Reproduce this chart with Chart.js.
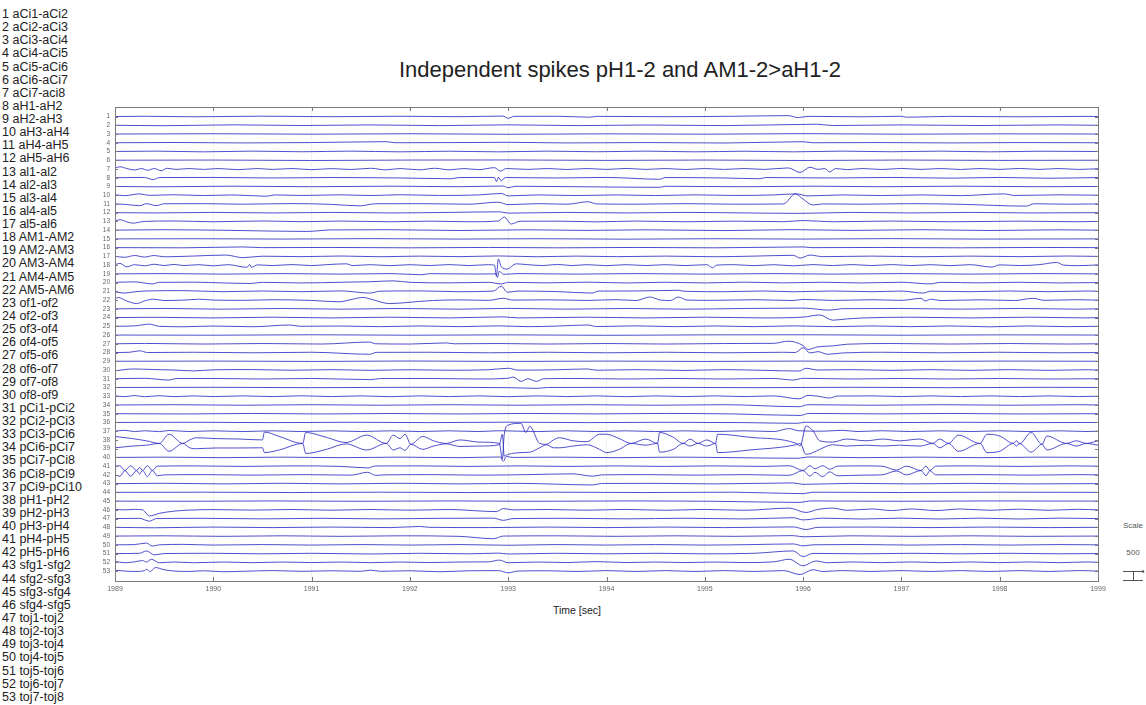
<!DOCTYPE html>
<html>
<head>
<meta charset="utf-8">
<script src="https://cdn.jsdelivr.net/npm/chart.js@4.4.1/dist/chart.umd.min.js"></script>
<style>
  html,body{margin:0;padding:0;background:#fff;}
  body{width:1146px;height:705px;position:relative;overflow:hidden;font-family:"Liberation Sans",Arial,sans-serif;}
  #c{position:absolute;left:0;top:0;}
  .lbl{position:absolute;white-space:nowrap;transform:translateY(-50%);}
  #names .lbl{left:2px;font-size:12.5px;color:#222;}
  .ctr{position:absolute;white-space:nowrap;transform:translate(-50%,-50%);}
  #title{font-size:22px;color:#222;}
  #xlab{font-size:10.5px;color:#222;}
  .sc{font-size:8px;color:#555;}
</style>
</head>
<body>
<div id="names"></div>
<div id="title" class="ctr" style="left:620px;top:70px"></div>
<div id="xlab" class="ctr" style="left:577px;top:610px">Time [sec]</div>
<div class="ctr sc" style="left:1133px;top:525px">Scale</div>
<div id="scaleVal" class="ctr sc" style="left:1133px;top:552px"></div>
<canvas id="c" width="1146" height="705"></canvas>
<script>
/* ═══ DATA ═══ */
const titleText='Independent spikes pH1-2 and AM1-2>aH1-2';
const channelNames=['aCi1-aCi2','aCi2-aCi3','aCi3-aCi4','aCi4-aCi5','aCi5-aCi6','aCi6-aCi7','aCi7-aci8',
  'aH1-aH2','aH2-aH3','aH3-aH4','aH4-aH5','aH5-aH6','al1-al2','al2-al3','al3-al4','al4-al5','al5-al6',
  'AM1-AM2','AM2-AM3','AM3-AM4','AM4-AM5','AM5-AM6','of1-of2','of2-of3','of3-of4','of4-of5','of5-of6',
  'of6-of7','of7-of8','of8-of9','pCi1-pCi2','pCi2-pCi3','pCi3-pCi6','pCi6-pCi7','pCi7-pCi8','pCi8-pCi9',
  'pCi9-pCi10','pH1-pH2','pH2-pH3','pH3-pH4','pH4-pH5','pH5-pH6','sfg1-sfg2','sfg2-sfg3','sfg3-sfg4',
  'sfg4-sfg5','toj1-toj2','toj2-toj3','toj3-toj4','toj4-toj5','toj5-toj6','toj6-toj7','toj7-toj8'];
const xTicks=[1989,1990,1991,1992,1993,1994,1995,1996,1997,1998,1999];
const scaleLabel='500';

// one trace per channel: [time (s), amplitude in trace-spacing units, + = up]
const traces=[
 /*1*/ [[1989,0],[1989.3,0.03],[1989.8,-0.03],[1990.5,0.04],[1991.2,-0.02],[1991.9,0.03],[1992.5,-0.02],[1992.95,0.05],[1993.0,-0.2],[1993.06,0.02],[1993.5,0.03],[1993.83,-0.08],[1993.9,0.02],[1994.6,-0.02],[1995.3,0.03],[1995.85,0.1],[1995.95,-0.12],[1996.05,0.02],[1996.6,-0.03],[1997,0.03],[1997.05,-0.08],[1997.5,0.02],[1998.2,-0.03],[1998.9,0.02],[1999,0]],
 /*2*/ [[1989,0],[1989.5,-0.05],[1990.2,0.05],[1990.9,-0.03],[1991.6,0.04],[1992.3,-0.04],[1993.0,0.05],[1993.7,-0.04],[1994.4,0.03],[1995.2,-0.04],[1996.14,0.12],[1996.3,-0.03],[1997,0.04],[1997.8,-0.03],[1998.6,0.04],[1999,0]],
 /*3*/ [[1989,0],[1990,0.03],[1991,-0.02],[1992,0.03],[1993,-0.03],[1994,0.02],[1995,-0.02],[1996,0.04],[1997,-0.02],[1998,0.02],[1999,0]],
 /*4*/ [[1989,0],[1989.6,0.03],[1990.3,-0.02],[1991.0,0.02],[1991.76,0.12],[1991.85,0],[1992.5,0.02],[1993.0,0.05],[1993.6,-0.02],[1994.4,0.02],[1995.2,-0.03],[1996.0,0.12],[1996.1,0],[1996.8,0.02],[1997.5,-0.02],[1998.2,0.02],[1999,0]],
 /*5*/ [[1989,0],[1989.4,0.04],[1989.9,-0.04],[1990.4,0.04],[1990.9,-0.03],[1991.4,0.04],[1991.9,-0.04],[1992.4,0.03],[1992.9,-0.04],[1993.4,0.04],[1993.9,-0.03],[1994.4,0.04],[1994.9,-0.04],[1995.4,0.03],[1995.9,-0.04],[1996.4,0.04],[1996.9,-0.03],[1997.4,0.04],[1997.9,-0.04],[1998.4,0.03],[1999,0]],
 /*6*/ [[1989,0],[1990,0.02],[1991,-0.03],[1992,0.02],[1993,0.03],[1994,-0.02],[1995,0.02],[1996,-0.03],[1997,0.02],[1998,-0.02],[1999,0]],
 /*7*/ [[1989,0.1],[1989.05,0.25],[1989.12,0.05],[1989.2,-0.12],[1989.27,0.05],[1989.33,-0.15],[1989.4,0.05],[1989.47,-0.2],[1989.53,0.08],[1989.62,-0.05],[1989.75,0.05],[1989.9,-0.05],[1990.05,0.05],[1990.25,-0.08],[1990.45,0.05],[1990.6,-0.05],[1990.8,0.05],[1991.0,-0.08],[1991.2,0.04],[1991.4,-0.06],[1991.6,0.08],[1991.75,-0.1],[1991.9,0.05],[1992.1,-0.1],[1992.25,0.08],[1992.4,-0.1],[1992.55,0.05],[1992.7,-0.08],[1992.86,0.15],[1992.92,-0.25],[1992.98,0.05],[1993.2,-0.05],[1993.4,0.05],[1993.6,-0.06],[1993.8,0.05],[1994.0,-0.05],[1994.2,0.06],[1994.4,-0.05],[1994.6,0.05],[1994.8,-0.06],[1995.0,0.05],[1995.2,-0.05],[1995.4,0.05],[1995.6,-0.05],[1995.85,0.12],[1995.97,-0.4],[1996.07,0.2],[1996.15,-0.05],[1996.22,0.05],[1996.27,-0.35],[1996.33,0.05],[1996.45,-0.08],[1996.6,0.05],[1996.8,-0.06],[1997.0,0.06],[1997.2,-0.05],[1997.4,0.05],[1997.6,-0.06],[1997.8,0.05],[1998.0,-0.05],[1998.2,0.06],[1998.4,-0.05],[1998.6,0.05],[1998.8,-0.05],[1999,0.03]],
 /*8*/ [[1989,0],[1989.3,0.03],[1989.39,-0.22],[1989.45,0.02],[1990,0.03],[1990.6,-0.03],[1991.2,0.02],[1991.9,-0.03],[1992.42,-0.12],[1992.5,0.02],[1992.86,0.03],[1992.88,-0.45],[1992.9,0.05],[1992.93,-0.35],[1992.97,0.02],[1993.5,-0.03],[1994.0,0.03],[1994.54,-0.18],[1994.6,0.02],[1995.2,-0.03],[1995.56,-0.12],[1995.62,0.02],[1996.3,-0.03],[1996.9,0.03],[1997.5,-0.05],[1998.0,0.03],[1998.5,-0.06],[1999,0.02]],
 /*9*/ [[1989,0],[1989.4,-0.04],[1990.2,0.03],[1991,-0.03],[1991.8,0.03],[1992.5,-0.03],[1992.95,0.05],[1993.0,-0.15],[1993.07,0.02],[1993.7,-0.03],[1994.54,-0.1],[1994.6,0.02],[1995.4,-0.03],[1996.1,0.03],[1996.8,-0.03],[1997.6,0.03],[1998.4,-0.03],[1999,0]],
 /*10*/ [[1989,0.05],[1989.1,-0.05],[1989.25,0.15],[1989.35,-0.02],[1989.6,0.05],[1989.9,-0.04],[1990.2,0.03],[1990.54,-0.12],[1990.62,0.03],[1990.9,-0.03],[1991.3,0.04],[1991.6,-0.04],[1991.9,0.05],[1992.3,-0.03],[1992.7,0.03],[1992.93,0.2],[1993.0,-0.08],[1993.3,0.03],[1993.7,-0.04],[1994.1,0.03],[1994.5,-0.04],[1994.9,0.04],[1995.3,-0.03],[1995.7,0.03],[1995.93,0.15],[1996.05,-0.08],[1996.4,0.03],[1996.8,-0.04],[1997.2,0.03],[1997.6,-0.05],[1998.04,0.15],[1998.15,-0.03],[1998.6,0.04],[1999,0]],
 /*11*/ [[1989,0],[1989.1,-0.05],[1989.25,-0.2],[1989.32,0.03],[1989.42,-0.2],[1989.5,0.02],[1989.9,0.03],[1990.3,-0.03],[1990.8,0.04],[1991.2,-0.05],[1991.49,-0.22],[1991.65,0.02],[1992.1,0.03],[1992.6,-0.03],[1992.9,0.2],[1993.0,-0.08],[1993.3,0.03],[1993.6,-0.03],[1993.81,0.25],[1993.9,0],[1994.3,-0.03],[1994.8,0.03],[1995.3,-0.03],[1995.8,0],[1995.92,1.15],[1996.0,0.55],[1996.1,-0.12],[1996.2,0],[1996.6,-0.03],[1997.1,0.03],[1997.6,-0.04],[1998.27,-0.25],[1998.35,0.02],[1998.7,-0.03],[1999,0]],
 /*12*/ [[1989,0],[1989.4,-0.03],[1990,0.03],[1990.6,-0.03],[1991.2,0.03],[1991.8,-0.03],[1992.4,0.03],[1992.91,0.1],[1993.0,-0.05],[1993.6,0.03],[1994.2,-0.03],[1994.8,0.03],[1995.4,-0.03],[1995.95,-0.08],[1996.5,0.03],[1997.1,-0.03],[1997.7,0.03],[1998.3,-0.03],[1999,0]],
 /*13*/ [[1989,0.05],[1989.05,0.2],[1989.12,-0.05],[1989.18,-0.2],[1989.3,0],[1989.6,0.05],[1990,-0.04],[1990.5,0.05],[1990.9,-0.03],[1991.3,0.04],[1991.8,-0.04],[1992.2,0.03],[1992.6,-0.04],[1992.9,0.05],[1992.96,0.5],[1993.03,-0.3],[1993.12,0.02],[1993.5,0.03],[1993.9,-0.05],[1994.3,0.04],[1994.8,-0.04],[1995.3,0.03],[1995.8,-0.03],[1996.0,0.1],[1996.3,-0.04],[1996.9,0.04],[1997.5,-0.04],[1998.2,0.03],[1998.8,-0.04],[1999,0]],
 /*14*/ [[1989,0],[1989.5,0.05],[1990.2,-0.03],[1990.95,-0.15],[1991.2,0.03],[1991.8,0.05],[1992.5,-0.04],[1993.2,0.04],[1993.8,-0.03],[1994.4,0.04],[1995.2,-0.05],[1995.9,0.06],[1996.5,-0.03],[1997.2,0.05],[1997.9,-0.04],[1998.6,0.04],[1999,0]],
 /*15*/ [[1989,0],[1989.8,0.02],[1990.7,-0.02],[1991.6,0.03],[1992.5,-0.02],[1993.3,0.02],[1994.2,-0.03],[1995.1,0.02],[1996,-0.02],[1996.9,0.03],[1997.8,-0.02],[1999,0]],
 /*16*/ [[1989,0],[1989.7,-0.02],[1990.3,0.08],[1990.5,0],[1991.2,0.02],[1992.0,-0.02],[1992.8,0.02],[1993.5,-0.02],[1994.3,0.02],[1995.1,-0.02],[1996.0,0.08],[1996.1,0],[1996.8,0.02],[1997.6,-0.02],[1998.4,0.02],[1999,0]],
 /*17*/ [[1989,0],[1989.1,-0.1],[1989.2,0.1],[1989.3,-0.08],[1989.4,0.1],[1989.5,-0.05],[1989.8,0.04],[1990.13,0.15],[1990.3,-0.15],[1990.5,0.02],[1990.9,-0.03],[1991.3,0.04],[1991.7,-0.04],[1992.1,0.03],[1992.5,-0.03],[1992.9,0.05],[1993.3,-0.04],[1993.7,0.03],[1994.1,-0.03],[1994.6,0.03],[1995.1,-0.04],[1995.5,0.03],[1995.9,0.12],[1995.97,-0.2],[1996.07,0.15],[1996.2,-0.03],[1996.7,0.03],[1997.2,-0.04],[1997.7,0.03],[1998.2,-0.03],[1998.7,0.04],[1999,0]],
 /*18*/ [[1989,0.05],[1989.05,0.2],[1989.12,-0.2],[1989.2,0.05],[1989.3,-0.08],[1989.4,0.1],[1989.5,-0.05],[1989.6,0.08],[1989.7,-0.05],[1989.85,0.05],[1990.0,-0.08],[1990.15,0.05],[1990.34,-0.25],[1990.37,0.05],[1990.39,-0.25],[1990.45,0.03],[1990.6,-0.05],[1990.8,0.06],[1991.0,-0.05],[1991.15,0.05],[1991.35,0.15],[1991.42,-0.05],[1991.6,0.05],[1991.8,-0.06],[1992.0,0.05],[1992.2,-0.05],[1992.4,0.06],[1992.6,-0.05],[1992.8,0.05],[1992.86,0],[1992.88,-1.2],[1992.9,0.7],[1992.93,-0.2],[1992.99,-0.45],[1993.08,0.15],[1993.2,0.05],[1993.35,-0.05],[1993.5,0.08],[1993.65,-0.05],[1993.8,0.05],[1994.0,-0.06],[1994.2,0.05],[1994.4,-0.05],[1994.6,0.05],[1994.8,-0.05],[1995.02,0.05],[1995.08,-0.3],[1995.12,0],[1995.3,0.05],[1995.5,-0.06],[1995.7,0.05],[1995.9,-0.08],[1996.1,0.06],[1996.3,-0.05],[1996.5,0.06],[1996.7,-0.05],[1996.9,0.06],[1997.1,-0.05],[1997.3,0.05],[1997.5,-0.06],[1997.7,0.05],[1997.92,-0.22],[1998.0,0.03],[1998.2,-0.05],[1998.4,0.05],[1998.58,0.3],[1998.65,0],[1998.8,-0.06],[1999,0.03]],
 /*19*/ [[1989,0],[1989.5,0.03],[1990.1,-0.03],[1990.7,0.03],[1991.3,-0.03],[1991.8,0.03],[1992.12,-0.1],[1992.2,0.02],[1992.7,-0.02],[1992.87,0],[1992.89,-0.4],[1992.91,0.3],[1992.95,-0.05],[1993.1,0.03],[1993.7,-0.03],[1994.3,0.03],[1995.0,-0.03],[1995.7,0.03],[1996.3,-0.03],[1997.0,0.03],[1997.7,-0.03],[1998.4,0.03],[1999,0]],
 /*20*/ [[1989,0.03],[1989.2,0.08],[1989.38,-0.15],[1989.45,0.03],[1989.8,0.05],[1990.1,-0.04],[1990.38,-0.1],[1990.5,0.03],[1990.9,-0.04],[1991.3,0.04],[1991.6,0.1],[1991.83,0.2],[1992.0,0.03],[1992.4,-0.03],[1992.8,0.03],[1992.93,-0.15],[1993.0,0.03],[1993.4,-0.03],[1993.8,0.05],[1994.2,-0.04],[1994.6,0.04],[1995.0,-0.04],[1995.4,0.05],[1995.8,-0.03],[1996.2,0.04],[1996.6,-0.04],[1997.0,0.04],[1997.29,-0.15],[1997.4,0.03],[1997.8,-0.03],[1998.2,0.04],[1998.6,-0.04],[1999,0]],
 /*21*/ [[1989,-0.05],[1989.1,-0.2],[1989.2,-0.05],[1989.35,0.05],[1989.7,0.08],[1990.1,-0.04],[1990.5,0.04],[1990.9,-0.04],[1991.3,0.05],[1991.59,-0.2],[1991.7,0.02],[1992.1,0.05],[1992.5,-0.04],[1992.85,0.03],[1992.93,0.6],[1992.99,-0.1],[1993.1,0.03],[1993.5,-0.03],[1993.85,-0.2],[1993.92,0.03],[1994.3,0.04],[1994.73,0.12],[1994.8,0],[1995.2,-0.04],[1995.6,0.04],[1995.9,-0.05],[1996.3,0.04],[1996.7,-0.04],[1997.0,0.03],[1997.22,-0.2],[1997.3,0.02],[1997.7,-0.04],[1998.1,0.04],[1998.5,-0.04],[1998.9,0.04],[1999,0]],
 /*22*/ [[1989,0.1],[1989.03,0.3],[1989.12,-0.1],[1989.22,-0.4],[1989.3,-0.1],[1989.39,0.1],[1989.5,-0.05],[1989.7,0],[1989.86,0.1],[1990.0,0],[1990.3,-0.03],[1990.6,0.04],[1991.0,-0.04],[1991.28,-0.2],[1991.4,0.05],[1991.52,0.3],[1991.62,0.05],[1991.79,-0.4],[1991.95,-0.3],[1992.1,-0.15],[1992.23,-0.05],[1992.5,0.02],[1992.8,-0.03],[1992.95,0.2],[1993.05,0],[1993.4,0.03],[1993.8,-0.04],[1994.1,0.05],[1994.3,-0.05],[1994.44,0.35],[1994.55,0],[1994.65,-0.05],[1994.73,0.35],[1994.82,0],[1995.1,-0.03],[1995.5,0.04],[1995.9,-0.05],[1996.0,0.08],[1996.3,-0.04],[1996.7,0.04],[1997.0,-0.03],[1997.2,0.2],[1997.24,-0.1],[1997.3,0.1],[1997.4,-0.05],[1997.8,0.03],[1998.15,-0.05],[1998.34,0.2],[1998.45,-0.03],[1998.8,0.04],[1999,0]],
 /*23*/ [[1989,0],[1989.5,0.04],[1990.1,-0.04],[1990.7,0.04],[1991.3,-0.04],[1991.9,0.04],[1992.5,-0.04],[1993.0,0.05],[1993.6,-0.04],[1994.2,0.04],[1994.8,-0.04],[1995.4,0.04],[1996.0,0.08],[1996.27,-0.15],[1996.4,0.02],[1997.0,0.04],[1997.6,-0.04],[1998.2,0.04],[1998.8,-0.04],[1999,0]],
 /*24*/ [[1989,0],[1989.4,0.03],[1990,-0.04],[1990.6,0.04],[1991.2,-0.04],[1991.8,0.04],[1992.4,-0.04],[1992.95,0.08],[1993.1,-0.04],[1993.8,0.04],[1994.4,-0.04],[1995.0,0.04],[1995.6,-0.04],[1996.0,0.05],[1996.17,0.3],[1996.3,-0.3],[1996.45,-0.15],[1996.6,-0.05],[1997.1,0.04],[1997.7,-0.04],[1998.3,0.04],[1998.9,-0.04],[1999,0]],
 /*25*/ [[1989,0],[1989.2,0.05],[1989.35,0.25],[1989.45,0],[1989.7,-0.05],[1990.0,0.03],[1990.4,-0.05],[1990.78,0.15],[1990.88,0],[1991.3,0.03],[1991.7,-0.04],[1992.1,0.04],[1992.5,-0.04],[1992.9,0.05],[1993.2,-0.04],[1993.5,0.03],[1993.81,0.15],[1993.9,-0.03],[1994.3,0.05],[1994.7,-0.04],[1995.1,0.04],[1995.5,-0.04],[1995.9,0.05],[1996.3,-0.04],[1996.7,0.04],[1997.1,-0.04],[1997.5,0.04],[1997.9,-0.06],[1998.3,0.04],[1998.7,-0.04],[1999,0]],
 /*26*/ [[1989,0],[1990,-0.02],[1991,0.03],[1992,-0.02],[1993,0.02],[1994,-0.03],[1995,0.02],[1996,0.03],[1997,-0.02],[1998,0.02],[1999,0]],
 /*27*/ [[1989,0],[1989.3,0.04],[1989.9,-0.03],[1990.5,0.03],[1991.1,-0.03],[1991.59,0.2],[1991.65,0],[1992.0,-0.03],[1992.37,0.1],[1992.45,0],[1992.9,0.03],[1993.4,-0.03],[1994.0,0.03],[1994.6,-0.03],[1995.2,0.03],[1995.7,0.05],[1995.85,0.3],[1996.0,-0.2],[1996.05,-0.65],[1996.15,-0.35],[1996.3,-0.25],[1996.45,-0.05],[1996.9,0.03],[1997.5,-0.03],[1998.1,0.03],[1998.7,-0.03],[1999,0]],
 /*28*/ [[1989,0],[1989.15,0.03],[1989.25,0.2],[1989.33,0],[1989.8,0.03],[1990.4,-0.03],[1991.0,0.03],[1991.59,-0.2],[1991.66,0.02],[1992.2,0.03],[1992.8,-0.03],[1993.4,0.03],[1994.0,-0.03],[1994.6,0.03],[1995.2,-0.03],[1995.8,0.03],[1995.92,0],[1996.0,0.55],[1996.07,-0.05],[1996.15,0.1],[1996.25,-0.2],[1996.4,-0.05],[1996.8,0.03],[1997.4,-0.03],[1998.0,0.03],[1998.6,-0.03],[1999,0]],
 /*29*/ [[1989,0],[1990,0.02],[1991,-0.02],[1992,0.03],[1993,-0.02],[1994,0.02],[1995,-0.02],[1996,0.02],[1997,-0.03],[1998,0.02],[1999,0]],
 /*30*/ [[1989,-0.1],[1989.1,0.05],[1989.18,0.12],[1989.4,0.05],[1989.6,0],[1989.8,-0.1],[1990.0,0.02],[1990.4,0.05],[1990.8,-0.03],[1991.2,0.04],[1991.6,-0.04],[1992.0,0.03],[1992.4,-0.03],[1992.8,0.03],[1993.0,0.2],[1993.1,-0.02],[1993.5,0.03],[1993.81,0.12],[1993.9,-0.03],[1994.3,0.04],[1994.8,-0.05],[1995.2,0.04],[1995.6,-0.04],[1995.96,-0.12],[1996.03,0.2],[1996.15,0],[1996.5,0.04],[1996.9,-0.04],[1997.3,0.04],[1997.7,-0.04],[1998.1,0.04],[1998.5,-0.04],[1998.9,0.03],[1999,0]],
 /*31*/ [[1989,0],[1989.3,0.05],[1989.55,-0.15],[1989.62,0.02],[1990.0,0.03],[1990.5,-0.03],[1991.0,0.03],[1991.6,-0.1],[1991.7,0.02],[1992.2,0.03],[1992.7,-0.03],[1993.0,0.05],[1993.05,0.2],[1993.13,-0.3],[1993.2,0],[1993.29,-0.3],[1993.36,0],[1993.7,0.03],[1994.2,-0.03],[1994.7,0.03],[1995.2,-0.03],[1995.7,0.03],[1995.9,-0.15],[1996.0,0.05],[1996.5,-0.03],[1997.0,0.03],[1997.5,-0.03],[1998.0,0.03],[1998.5,-0.03],[1999,0]],
 /*32*/ [[1989,0],[1990,0.02],[1991,-0.02],[1992,0.02],[1993,-0.02],[1993.29,-0.1],[1993.4,0],[1994.5,0.02],[1995.5,-0.02],[1996.5,0.02],[1997.5,-0.02],[1998.5,0.02],[1999,0]],
 /*33*/ [[1989,0.05],[1989.1,-0.05],[1989.2,0.08],[1989.3,-0.06],[1989.45,0.06],[1989.6,-0.05],[1989.8,0.04],[1990.0,-0.04],[1990.3,0.04],[1990.6,-0.04],[1990.9,0.05],[1991.2,-0.04],[1991.5,0.04],[1991.8,-0.05],[1992.1,0.04],[1992.4,-0.04],[1992.7,0.04],[1993.0,-0.05],[1993.3,0.04],[1993.6,-0.04],[1993.9,0.04],[1994.2,-0.05],[1994.5,0.04],[1994.8,-0.04],[1995.1,0.04],[1995.4,-0.04],[1995.7,0.04],[1995.96,-0.3],[1996.05,0.1],[1996.15,0],[1996.27,-0.2],[1996.35,0.02],[1996.7,0.04],[1997.0,-0.04],[1997.3,0.04],[1997.6,-0.04],[1997.9,0.04],[1998.2,-0.04],[1998.5,0.04],[1998.8,-0.04],[1999,0]],
 /*34*/ [[1989,0],[1989.6,0.03],[1990.3,-0.03],[1991.0,0.03],[1991.7,-0.03],[1992.4,0.03],[1993.1,-0.03],[1993.8,0.03],[1994.5,-0.03],[1995.2,0.03],[1995.96,-0.2],[1996.05,0.03],[1996.7,-0.03],[1997.4,0.03],[1998.1,-0.03],[1998.8,0.03],[1999,0]],
 /*35*/ [[1989,0],[1989.7,-0.03],[1990.4,0.03],[1991.1,-0.03],[1991.8,0.02],[1992.5,-0.03],[1993.2,0.03],[1993.9,-0.02],[1994.6,0.03],[1995.3,-0.03],[1995.97,-0.2],[1996.06,0.03],[1996.8,-0.02],[1997.5,0.03],[1998.2,-0.03],[1999,0]],
 /*36*/ [[1989,0],[1989.8,0.02],[1990.6,-0.02],[1991.4,0.02],[1992.2,-0.02],[1993.0,0.03],[1993.8,-0.02],[1994.6,0.02],[1995.4,-0.02],[1995.94,-0.1],[1996.02,0.02],[1996.8,-0.02],[1997.6,0.02],[1998.4,-0.02],[1999,0]],
 /*37*/ [[1989,0],[1989.1,0.1],[1989.2,-0.05],[1989.3,0.05],[1989.45,-0.05],[1989.55,0.08],[1989.75,-0.04],[1990.0,0.04],[1990.3,-0.04],[1990.6,0.04],[1990.9,-0.04],[1991.2,0.04],[1991.5,-0.04],[1991.8,0.04],[1992.1,-0.04],[1992.4,0.04],[1992.7,-0.04],[1992.9,0.05],[1993.3,-0.04],[1993.6,0.04],[1993.9,-0.04],[1994.2,0.04],[1994.5,-0.04],[1994.8,0.04],[1995.1,-0.04],[1995.4,0.04],[1995.7,-0.04],[1995.86,0.3],[1995.95,0.05],[1996.2,0],[1996.4,0.1],[1996.55,-0.04],[1996.8,0.05],[1997.1,-0.04],[1997.4,0.04],[1997.7,-0.04],[1998.0,0.04],[1998.3,-0.04],[1998.6,0.04],[1998.9,-0.04],[1999,0]],
 /*38*/ [[1989,0.4],[1989.18,0.15],[1989.32,-0.1],[1989.45,-0.4],[1989.55,0.65],[1989.69,-0.4],[1989.76,0],[1989.83,0.25],[1990.03,0.15],[1990.27,0.1],[1990.5,0],[1990.52,0.9],[1990.67,0.4],[1990.91,-0.4],[1990.94,0.85],[1991.15,0.3],[1991.35,-0.3],[1991.56,0.55],[1991.76,-0.4],[1991.83,0.55],[1991.9,0.15],[1991.95,0.65],[1992.01,-0.5],[1992.13,0.4],[1992.24,-0.1],[1992.37,-0.4],[1992.51,0],[1992.71,-0.25],[1992.91,-0.4],[1992.94,-2.2],[1992.96,0.65],[1993.0,1.7],[1993.13,1.9],[1993.18,0.85],[1993.22,1.55],[1993.32,-0.4],[1993.39,-0.5],[1993.46,0],[1993.52,0.25],[1993.66,-0.1],[1993.8,-0.2],[1993.93,0.65],[1994.0,0.65],[1994.13,0.15],[1994.25,-0.4],[1994.4,0.1],[1994.52,-0.4],[1994.54,0.85],[1994.68,0.3],[1994.78,-0.4],[1994.85,0.1],[1994.93,-0.4],[1995.02,0],[1995.11,-0.4],[1995.13,0.65],[1995.46,0.3],[1995.93,-0.4],[1995.97,-0.7],[1996.03,1.6],[1996.1,1.05],[1996.17,-0.1],[1996.3,-0.25],[1996.44,0.1],[1996.64,-0.1],[1996.81,0.1],[1996.98,-0.1],[1997.19,0.1],[1997.32,-0.4],[1997.39,0.1],[1997.48,-0.4],[1997.58,0.55],[1997.8,-0.4],[1997.87,0.65],[1998.0,0.45],[1998.14,-0.4],[1998.17,-0.1],[1998.2,-0.45],[1998.32,0.85],[1998.43,-0.5],[1998.48,0.45],[1998.68,-0.4],[1998.78,-0.1],[1998.88,-0.4],[1999,-0.1]],
 /*39*/ [[1989,0.1],[1989.18,0.3],[1989.32,0.4],[1989.45,0.6],[1989.55,-0.3],[1989.69,0.6],[1989.76,0.1],[1989.83,0],[1990.03,0.08],[1990.27,0.08],[1990.5,0.1],[1990.52,-0.45],[1990.67,-0.15],[1990.91,0.6],[1990.94,-0.55],[1991.15,-0.08],[1991.35,0.55],[1991.56,-0.15],[1991.76,0.6],[1991.83,-0.15],[1991.9,0.1],[1991.95,-0.2],[1992.01,0.5],[1992.13,-0.08],[1992.24,0.3],[1992.37,0.55],[1992.51,0.25],[1992.71,0.3],[1992.91,0.45],[1992.94,1.65],[1992.96,-0.85],[1993.0,-0.65],[1993.13,-0.45],[1993.22,-0.4],[1993.32,0.1],[1993.39,0.45],[1993.46,0.1],[1993.52,0.1],[1993.66,0.3],[1993.8,0.45],[1993.93,-0.08],[1994.0,-0.45],[1994.13,-0.08],[1994.25,0.6],[1994.4,0.4],[1994.52,0.6],[1994.54,-0.4],[1994.68,-0.08],[1994.78,0.6],[1994.85,0.3],[1994.93,0.6],[1995.02,0.3],[1995.11,0.6],[1995.13,-0.45],[1995.46,-0.15],[1995.93,0.45],[1995.97,0.6],[1996.03,-0.65],[1996.1,-0.45],[1996.17,-0.08],[1996.3,0.45],[1996.44,0.3],[1996.64,0.4],[1996.81,0.3],[1996.98,0.4],[1997.19,0.3],[1997.32,0.6],[1997.39,0.1],[1997.48,0.6],[1997.58,-0.3],[1997.8,0.6],[1997.87,-0.45],[1998.0,-0.3],[1998.14,0.6],[1998.17,0.3],[1998.2,0.6],[1998.32,-0.4],[1998.43,0.5],[1998.48,-0.15],[1998.68,0.6],[1998.78,0.3],[1998.88,0.6],[1999,0.4]],
 /*40*/ [[1989,0],[1989.5,0.03],[1990.1,-0.03],[1990.7,0.03],[1991.3,-0.03],[1991.9,0.03],[1992.5,-0.03],[1992.92,0.05],[1992.95,-0.45],[1992.98,0.1],[1993.05,0],[1993.5,0.03],[1994.1,-0.03],[1994.7,0.03],[1995.3,-0.03],[1995.95,-0.1],[1996.05,0.05],[1996.6,-0.03],[1997.2,0.03],[1997.8,-0.03],[1998.4,0.03],[1999,0]],
 /*41*/ [[1989,0],[1989.05,0.05],[1989.1,-0.5],[1989.16,0.05],[1989.22,-0.5],[1989.25,-0.15],[1989.28,-0.5],[1989.33,0.05],[1989.38,-0.5],[1989.43,0],[1989.8,0.03],[1990.3,-0.03],[1990.8,0.03],[1991.3,-0.03],[1991.57,-0.2],[1991.65,0.02],[1992.1,0.03],[1992.6,-0.03],[1993.1,0.03],[1993.6,-0.03],[1994.1,0.03],[1994.6,-0.03],[1995.1,0.03],[1995.6,-0.03],[1995.86,0.05],[1996.0,-0.5],[1996.07,0.05],[1996.12,-0.3],[1996.2,0.05],[1996.27,-0.35],[1996.35,0],[1996.6,0.03],[1996.8,0],[1996.95,-0.45],[1997.05,0],[1997.2,-0.5],[1997.25,0],[1997.29,-0.5],[1997.35,0],[1997.7,0.03],[1998.2,-0.03],[1998.7,0.03],[1999,0]],
 /*42*/ [[1989,0],[1989.05,-0.15],[1989.1,0.5],[1989.16,-0.15],[1989.22,0.5],[1989.25,0.1],[1989.28,0.5],[1989.33,-0.2],[1989.38,0.5],[1989.43,-0.1],[1989.5,0],[1989.9,0.03],[1990.4,-0.03],[1990.9,0.03],[1991.4,-0.03],[1991.57,0.3],[1991.65,-0.05],[1991.75,0],[1992.2,0.03],[1992.7,-0.03],[1993.2,0.03],[1993.66,0.12],[1993.75,0],[1993.86,-0.15],[1993.95,0],[1994.4,0.03],[1994.9,-0.03],[1995.4,0.03],[1995.86,-0.05],[1996.0,0.5],[1996.07,-0.15],[1996.12,0.3],[1996.2,-0.2],[1996.27,0.35],[1996.35,-0.1],[1996.6,-0.03],[1996.8,0],[1996.95,0.45],[1997.05,0],[1997.2,0.5],[1997.25,-0.1],[1997.29,0.5],[1997.35,0],[1997.8,0.03],[1998.3,-0.03],[1998.8,0.03],[1999,0]],
 /*43*/ [[1989,0],[1989.5,0.04],[1990.1,-0.03],[1990.7,0.04],[1991.3,-0.03],[1991.9,0.04],[1992.5,-0.03],[1993.1,0.03],[1993.86,-0.15],[1993.95,0.02],[1994.5,0.03],[1995.1,-0.03],[1995.9,0.08],[1996.0,-0.08],[1996.5,0.03],[1997.1,-0.03],[1997.7,0.03],[1998.3,-0.03],[1999,0]],
 /*44*/ [[1989,0],[1989.9,0.02],[1990.8,-0.02],[1991.7,0.02],[1992.6,-0.02],[1993.5,0.02],[1994.4,-0.02],[1995.3,0.02],[1996.0,-0.15],[1996.1,0.02],[1997.0,-0.02],[1998.0,0.02],[1999,0]],
 /*45*/ [[1989,0],[1989.7,-0.02],[1990.6,0.02],[1991.5,-0.02],[1992.4,0.02],[1993.3,-0.02],[1994.2,0.02],[1995.1,-0.02],[1995.97,-0.15],[1996.07,0.02],[1997.0,-0.02],[1997.9,0.02],[1999,0]],
 /*46*/ [[1989,0.05],[1989.1,0],[1989.2,0.05],[1989.28,0],[1989.35,-0.7],[1989.45,-0.4],[1989.6,-0.15],[1989.75,-0.03],[1990.0,0.03],[1990.4,-0.03],[1990.8,0.04],[1991.2,-0.04],[1991.6,0.04],[1992.0,-0.04],[1992.4,0.04],[1992.88,-0.2],[1992.95,0.15],[1993.05,0],[1993.4,0.04],[1993.8,-0.04],[1994.2,0.05],[1994.6,-0.05],[1995.0,0.05],[1995.4,-0.05],[1995.86,0.2],[1996.03,-0.3],[1996.15,0.05],[1996.3,0.2],[1996.45,-0.05],[1996.7,0.1],[1996.9,-0.08],[1997.1,0.1],[1997.35,-0.08],[1997.6,0.1],[1997.9,-0.05],[1998.2,0.08],[1998.5,-0.05],[1998.8,0.06],[1999,0]],
 /*47*/ [[1989,0],[1989.25,0.03],[1989.35,-0.3],[1989.42,0],[1989.9,0.03],[1990.5,-0.03],[1991.1,0.03],[1991.7,-0.03],[1992.3,0.03],[1992.85,0.05],[1992.95,-0.2],[1993.05,0],[1993.6,0.03],[1994.2,-0.03],[1994.8,0.04],[1995.4,-0.04],[1995.9,0.1],[1996.0,-0.15],[1996.2,0.05],[1996.6,-0.05],[1997.0,0.05],[1997.4,-0.05],[1997.8,0.05],[1998.2,-0.05],[1998.6,0.05],[1999,0]],
 /*48*/ [[1989,0],[1989.4,-0.05],[1990,0.03],[1990.6,-0.03],[1991.2,0.03],[1991.8,-0.03],[1992.1,0.1],[1992.2,0],[1992.8,-0.03],[1993.4,0.03],[1994,-0.03],[1994.6,0.03],[1995.2,-0.03],[1995.9,0.05],[1996.03,-0.25],[1996.15,0],[1996.7,0.03],[1997.3,-0.03],[1997.9,0.03],[1998.5,-0.03],[1999,0]],
 /*49*/ [[1989,0],[1989.5,0.03],[1990.1,-0.03],[1990.7,0.03],[1991.3,-0.03],[1991.9,0.03],[1992.5,-0.03],[1992.85,-0.3],[1992.95,0],[1993.5,0.03],[1994.1,-0.03],[1994.7,0.03],[1995.3,-0.03],[1995.9,0.05],[1996.0,-0.08],[1996.5,0.03],[1997.1,-0.03],[1997.7,0.03],[1998.3,-0.03],[1999,0]],
 /*50*/ [[1989,0],[1989.2,0.03],[1989.32,0.2],[1989.38,-0.15],[1989.45,0],[1989.7,0.05],[1990.0,-0.03],[1990.5,0.03],[1991.0,-0.03],[1991.5,0.03],[1992.0,-0.03],[1992.5,0.03],[1993.0,-0.05],[1993.5,0.03],[1994.0,-0.03],[1994.5,0.03],[1995.0,-0.03],[1995.5,0.03],[1995.9,0.1],[1996.0,-0.12],[1996.1,0],[1996.6,0.03],[1997.1,-0.03],[1997.6,0.03],[1998.1,-0.03],[1998.6,0.03],[1999,0]],
 /*51*/ [[1989,0],[1989.25,0.03],[1989.32,0.3],[1989.4,-0.15],[1989.5,0],[1990,0.03],[1990.5,-0.03],[1991,0.03],[1991.6,-0.05],[1992.1,0.03],[1992.6,-0.03],[1992.9,0.05],[1993.0,-0.05],[1993.5,0.03],[1994.0,-0.03],[1994.5,0.03],[1995.0,-0.03],[1995.5,0.03],[1995.9,0.3],[1996.0,-0.35],[1996.1,0.02],[1996.6,-0.03],[1997.1,0.03],[1997.6,-0.03],[1998.1,0.03],[1998.6,-0.03],[1999,0]],
 /*52*/ [[1989,0.1],[1989.1,-0.05],[1989.2,0.05],[1989.28,0.2],[1989.32,0.02],[1989.37,0.35],[1989.45,-0.05],[1989.6,0.03],[1989.8,-0.05],[1990.1,0.03],[1990.4,-0.04],[1990.7,0.03],[1991.0,-0.03],[1991.3,0.03],[1991.6,-0.04],[1991.9,0.03],[1992.2,-0.03],[1992.5,0.03],[1992.8,0.05],[1992.91,0.25],[1993.0,-0.05],[1993.3,0.03],[1993.6,-0.03],[1993.9,0.08],[1994.2,-0.03],[1994.5,0.03],[1994.8,-0.03],[1995.1,0.03],[1995.4,-0.03],[1995.7,0.05],[1995.86,0.35],[1996.0,-0.4],[1996.13,0.15],[1996.25,-0.05],[1996.5,0.04],[1996.8,-0.04],[1997.1,0.04],[1997.4,-0.04],[1997.7,0.04],[1998.0,-0.04],[1998.3,0.04],[1998.6,-0.04],[1998.9,0.04],[1999,0]],
 /*53*/ [[1989,0.1],[1989.1,0],[1989.2,-0.05],[1989.3,0.05],[1989.32,0.2],[1989.36,-0.05],[1989.41,0.4],[1989.5,0.15],[1989.6,0],[1989.75,-0.05],[1989.9,0.03],[1990.1,-0.08],[1990.3,-0.03],[1990.6,0.05],[1990.9,-0.03],[1991.2,0.03],[1991.5,-0.03],[1991.6,0.1],[1991.7,-0.03],[1992.0,0.03],[1992.3,-0.08],[1992.6,0.03],[1992.9,0.05],[1993.0,-0.2],[1993.1,0],[1993.4,0.03],[1993.7,-0.05],[1994.0,0.05],[1994.3,-0.05],[1994.6,0.05],[1994.9,-0.05],[1995.2,0.05],[1995.5,-0.05],[1995.8,0.05],[1995.97,-0.4],[1996.1,0.15],[1996.2,-0.05],[1996.4,0.05],[1996.7,-0.05],[1997.0,0.05],[1997.3,-0.05],[1997.6,0.05],[1997.9,-0.05],[1998.2,0.05],[1998.5,-0.05],[1998.8,0.05],[1999,0]]
];

/* ═══ TEXT ═══ */
document.getElementById('title').textContent=titleText;
document.getElementById('scaleVal').textContent=scaleLabel;
const namesBox=document.getElementById('names');
channelNames.forEach((n,i)=>{
  const d=document.createElement('div');
  d.className='lbl';
  d.style.top=(14+i*13.13)+'px';
  d.textContent=(i+1)+' '+n;
  namesBox.appendChild(d);
});

/* ═══ CHART ═══ */
Chart.defaults.font.family='"Liberation Sans", Arial, sans-serif';
const chIds=channelNames.map((_,i)=>i+1);
const LINE='rgba(48,48,196,0.85)', AXIS='#7a7a7a';

const datasets=traces.map((tr,i)=>({
  label:channelNames[i],
  data:tr.map(([t,v])=>({x:t, y:(i+1)-v})),
  borderColor:LINE, borderWidth:1, pointRadius:0,
  cubicInterpolationMode:'monotone', fill:false
}));

// box, inward ticks and the amplitude scale bar
const framePlugin={
  id:'frame',
  afterDatasetsDraw(chart){
    const {ctx, chartArea:a, scales:{x,y}}=chart;
    ctx.save();
    ctx.strokeStyle=AXIS; ctx.lineWidth=1;
    ctx.strokeRect(a.left+0.5, a.top+0.5, a.right-a.left, a.bottom-a.top);
    ctx.beginPath();
    xTicks.forEach(v=>{
      const px=Math.round(x.getPixelForValue(v))+0.5;
      ctx.moveTo(px,a.top); ctx.lineTo(px,a.top+4);
      ctx.moveTo(px,a.bottom); ctx.lineTo(px,a.bottom-4);
    });
    chIds.forEach(v=>{
      const py=Math.round(y.getPixelForValue(v))+0.5;
      ctx.moveTo(a.left,py); ctx.lineTo(a.left+3,py);
      ctx.moveTo(a.right,py); ctx.lineTo(a.right-3,py);
    });
    ctx.stroke();
    // scale bar
    ctx.strokeStyle='#555';
    ctx.beginPath();
    ctx.moveTo(1123,571.5); ctx.lineTo(1143,571.5);
    ctx.moveTo(1133.5,571.5); ctx.lineTo(1133.5,580.5);
    ctx.moveTo(1123,580.5); ctx.lineTo(1143,580.5);
    ctx.stroke();
    ctx.fillStyle='#555';
    ctx.beginPath(); ctx.arc(1143,571.5,1.3,0,Math.PI*2); ctx.fill();
    ctx.restore();
  }
};

new Chart(document.getElementById('c'),{
  type:'line',
  data:{datasets},
  options:{
    responsive:false, animation:false, devicePixelRatio:1,
    layout:{padding:{left:0, top:107, right:48, bottom:0}},
    plugins:{legend:{display:false}, tooltip:{enabled:false}},
    scales:{
      x:{
        type:'linear', min:1989, max:1999,
        afterBuildTicks:ax=>{ax.ticks=xTicks.map(v=>({value:v}))},
        afterFit:ax=>{ax.height=124},
        ticks:{font:{size:7}, color:'#666', padding:4, maxRotation:0, callback:v=>String(v)},
        grid:{color:'rgba(0,0,0,0.05)', drawTicks:false},
        border:{display:false}
      },
      y:{
        type:'linear', reverse:true, min:-0.09, max:54.14,
        afterBuildTicks:ax=>{ax.ticks=chIds.map(v=>({value:v}))},
        afterFit:ax=>{ax.width=115},
        ticks:{font:{size:6.5}, color:'#666', padding:5, autoSkip:false, callback:v=>String(v)},
        grid:{display:false, drawTicks:false},
        border:{display:false}
      }
    }
  },
  plugins:[framePlugin]
});
</script>
</body>
</html>
